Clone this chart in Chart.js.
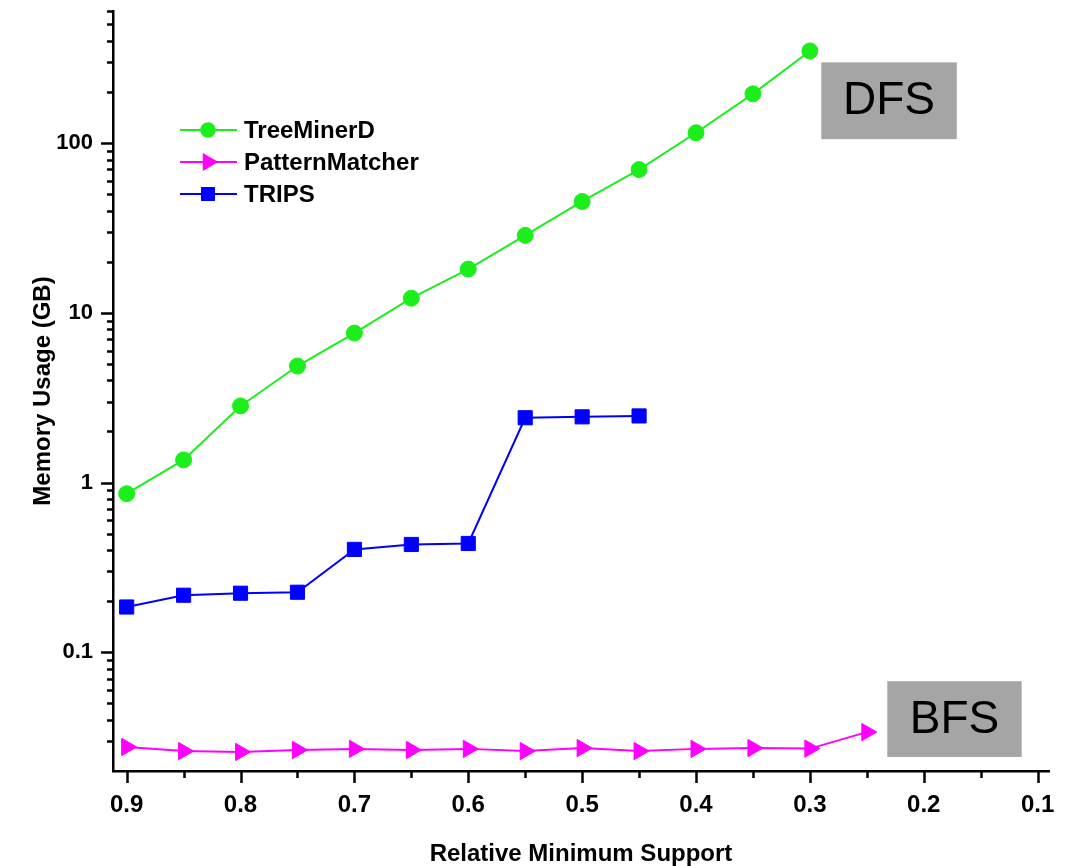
<!DOCTYPE html>
<html>
<head>
<meta charset="utf-8">
<script src="https://cdn.jsdelivr.net/npm/chart.js@4.4.1/dist/chart.umd.min.js"></script>
<style>
    html, body { margin: 0; padding: 0; background: #fff; }
</style>
</head>
<body>
<canvas id="memory-graphic" width="1069" height="866"></canvas>
<script>
// Valores
const supportLevels = [0.9, 0.85, 0.8, 0.75, 0.7, 0.65, 0.6, 0.55, 0.5, 0.45, 0.4, 0.35, 0.3, 0.25];
const treeMinerD = [0.86, 1.36, 2.83, 4.86, 7.6, 12.2, 18.1, 28.6, 45.3, 69.8, 115, 195, 349];
const patternMatcher = [0.0277, 0.0262, 0.0259, 0.0266, 0.027, 0.0266, 0.027, 0.0262, 0.0273, 0.0262, 0.027, 0.0273, 0.0271, 0.0339];
const trips = [0.185, 0.217, 0.223, 0.226, 0.404, 0.432, 0.438, 2.41, 2.44, 2.47];
const xTickValues = [0.9, 0.8, 0.7, 0.6, 0.5, 0.4, 0.3, 0.2, 0.1];
const yTickValues = [0.1, 1, 10, 100];

(function () {
    const BOLD = { family: "'Liberation Sans', Arial, sans-serif", weight: "bold" };

    const toPoints = (values) => values.map((v, i) => ({ x: supportLevels[i], y: v }));

    // Marcas de los ejes (mayores y menores) dibujadas con las escalas
    const axisMarks = {
        id: "axisMarks",
        afterDraw(chart) {
            const { ctx, chartArea, scales } = chart;
            ctx.save();
            ctx.strokeStyle = "#000";
            ctx.lineWidth = 2.5;
            ctx.beginPath();
            for (let k = -2; k <= 2; k++) {
                for (let m = 1; m <= 9; m++) {
                    const v = m * Math.pow(10, k);
                    if (v <= scales.y.min * 1.01 || v > scales.y.max * 1.001) continue;
                    const y = Math.round(scales.y.getPixelForValue(v)) + 0.5;
                    const len = m === 1 ? 12 : 6;
                    ctx.moveTo(chartArea.left - len, y);
                    ctx.lineTo(chartArea.left, y);
                }
            }
            for (let i = 2; i <= 18; i++) {
                const v = i * 0.05;
                const x = Math.round(scales.x.getPixelForValue(v)) + 0.5;
                const len = i % 2 === 0 ? 12 : 7;
                ctx.moveTo(x, chartArea.bottom);
                ctx.lineTo(x, chartArea.bottom + len);
            }
            ctx.stroke();
            ctx.restore();
        },
    };

    // Leyenda dentro del area del grafico
    const seriesKey = {
        id: "seriesKey",
        afterDraw(chart) {
            const { ctx } = chart;
            ctx.save();
            chart.data.datasets.forEach((ds, i) => {
                const y = 130 + i * 32;
                ctx.strokeStyle = ds.borderColor;
                ctx.lineWidth = 2;
                ctx.beginPath();
                ctx.moveTo(180, y);
                ctx.lineTo(237, y);
                ctx.stroke();
                ctx.fillStyle = ds.backgroundColor;
                Chart.helpers.drawPoint(ctx, {
                    pointStyle: ds.pointStyle,
                    radius: ds.pointRadius * 0.85,
                    rotation: ds.rotation || 0,
                    borderWidth: 1,
                }, 208, y);
                ctx.fillStyle = "#000";
                ctx.font = "bold 24px 'Liberation Sans', Arial, sans-serif";
                ctx.textBaseline = "middle";
                ctx.fillText(ds.label, 244, y + 1);
            });
            ctx.restore();
        },
    };

    // Cajas grises DFS / BFS
    const notes = [
        { text: "DFS", x0: 0.29, x1: 0.171, y0: 299, y1: 105.5 },
        { text: "BFS", x0: 0.232, x1: 0.114, y0: 0.0676, y1: 0.0242 },
    ];
    const boxNotes = {
        id: "boxNotes",
        afterDraw(chart) {
            const { ctx, scales } = chart;
            ctx.save();
            notes.forEach((n) => {
                const l = scales.x.getPixelForValue(n.x0);
                const r = scales.x.getPixelForValue(n.x1);
                const t = scales.y.getPixelForValue(n.y0);
                const b = scales.y.getPixelForValue(n.y1);
                ctx.fillStyle = "#a5a5a5";
                ctx.fillRect(l, t, r - l, b - t);
                ctx.fillStyle = "#000";
                ctx.font = "46px 'Liberation Sans', Arial, sans-serif";
                ctx.textAlign = "center";
                ctx.textBaseline = "middle";
                ctx.fillText(n.text, (l + r) / 2, (t + b) / 2 + 1);
            });
            ctx.restore();
        },
    };

    const ctx = document.getElementById("memory-graphic").getContext("2d");
    new Chart(ctx, {
        type: "line",
        data: {
            datasets: [
                {
                    label: "TreeMinerD",
                    data: toPoints(treeMinerD),
                    borderColor: "#1cee1c",
                    backgroundColor: "#1cee1c",
                    pointStyle: "circle",
                    pointRadius: 8,
                },
                {
                    label: "PatternMatcher",
                    data: toPoints(patternMatcher),
                    borderColor: "#ff00ff",
                    backgroundColor: "#ff00ff",
                    pointStyle: "triangle",
                    rotation: 90,
                    pointRadius: 10,
                },
                {
                    label: "TRIPS",
                    data: toPoints(trips),
                    borderColor: "#0000ff",
                    backgroundColor: "#0000ff",
                    pointStyle: "rect",
                    pointRadius: 10,
                },
            ],
        },
        options: {
            responsive: false,
            animation: false,
            devicePixelRatio: 1,
            layout: { padding: { top: 7, right: 20, left: 0, bottom: 0 } },
            elements: {
                line: { borderWidth: 2, tension: 0 },
                point: { borderWidth: 1 },
            },
            scales: {
                x: {
                    type: "linear",
                    reverse: true,
                    min: 0.09,
                    max: 0.912,
                    afterBuildTicks: (s) => { s.ticks = xTickValues.map((v) => ({ value: v })); },
                    afterFit: (s) => {
                        s.height = 95;
                        s.paddingLeft = 0;
                        s.paddingRight = 0;
                    },
                    ticks: {
                        callback: (v) => v.toFixed(1),
                        color: "#000",
                        font: { ...BOLD, size: 24 },
                        padding: 20,
                        maxRotation: 0,
                        autoSkip: false,
                    },
                    grid: { display: false, drawTicks: false },
                    border: { color: "#000", width: 2.5 },
                    title: {
                        display: true,
                        text: "Relative Minimum Support",
                        color: "#000",
                        font: { ...BOLD, size: 24, lineHeight: 1 },
                        padding: { top: 0, bottom: 0 },
                    },
                },
                y: {
                    type: "logarithmic",
                    min: 0.02,
                    max: 600,
                    afterBuildTicks: (s) => { s.ticks = yTickValues.map((v) => ({ value: v })); },
                    afterFit: (s) => {
                        s.width = 113;
                        s.paddingTop = 0;
                        s.paddingBottom = 0;
                    },
                    ticks: {
                        callback: (v) => String(v),
                        color: "#000",
                        font: { ...BOLD, size: 22 },
                        padding: 20,
                        autoSkip: false,
                    },
                    grid: { display: false, drawTicks: false },
                    border: { color: "#000", width: 2.5 },
                    title: {
                        display: true,
                        text: "Memory Usage (GB)",
                        color: "#000",
                        font: { ...BOLD, size: 24, lineHeight: 1 },
                        padding: { top: 31, bottom: 0 },
                    },
                },
            },
            plugins: {
                legend: { display: false },
                tooltip: { enabled: false },
            },
        },
        plugins: [axisMarks, seriesKey, boxNotes],
    });
})();
</script>
</body>
</html>
